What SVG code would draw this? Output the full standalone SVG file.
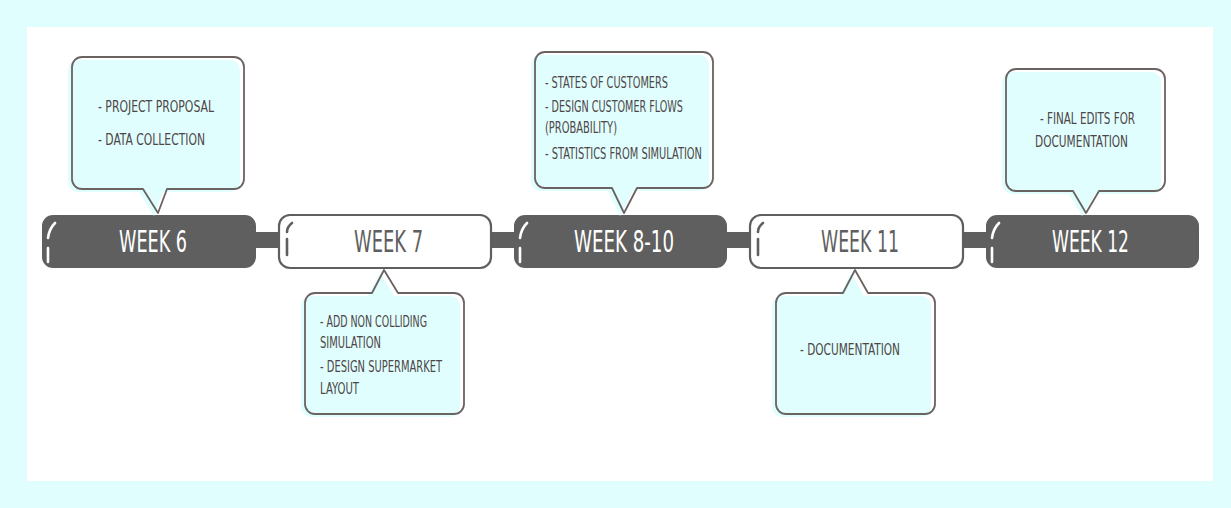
<svg xmlns="http://www.w3.org/2000/svg" width="1231" height="508" viewBox="0 0 1231 508">
<style>
.bg{fill:#e0fefe}
.panel{fill:#ffffff}
.bar{fill:#5f5f5f}
.pd{fill:#5f5f5f}
.pw{fill:#ffffff;stroke:#5f5f5f;stroke-width:2.2}
.hd{fill:none;stroke:#ffffff;stroke-width:2.6;stroke-linecap:round}
.hw{fill:none;stroke:#5f5f5f;stroke-width:2.6;stroke-linecap:round}
.lbl{font-family:"Liberation Sans Narrow","DejaVu Sans Condensed","Liberation Sans",sans-serif;font-size:31px}
.ld{fill:#ffffff}
.lw{fill:#5f5f5f}
.csh{fill:#e0fefe}
.cst{fill:none;stroke:#6b6361;stroke-width:1.8;stroke-linejoin:round}
.ct{font-family:"Liberation Sans Narrow","DejaVu Sans Condensed","Liberation Sans",sans-serif;font-size:15px;fill:#4e4646}
</style>
<rect class="bg" x="0" y="0" width="1231" height="508"/>
<rect class="panel" x="27" y="27" width="1186" height="454"/>

<g id="connectors">
<rect class="bar" x="250" y="232" width="35" height="16"/>
<rect class="bar" x="486" y="232" width="34" height="16"/>
<rect class="bar" x="722" y="232" width="34" height="16"/>
<rect class="bar" x="958" y="232" width="34" height="16"/>
</g>

<g id="week6">
<rect class="pd" x="42" y="215" width="214" height="53" rx="11"/>
<path class="hd" d="M55,223 Q49,229 48,238 M48,248 V262"/>
<text class="lbl ld" x="153" y="252" text-anchor="middle" textLength="68" lengthAdjust="spacingAndGlyphs">WEEK 6</text>
</g>
<g id="week7">
<rect class="pw" x="279" y="215" width="212" height="53" rx="11"/>
<path class="hw" d="M292,223 Q287,227 287,232 M287,239 V255"/>
<text class="lbl lw" x="388.5" y="252" text-anchor="middle" textLength="69" lengthAdjust="spacingAndGlyphs">WEEK 7</text>
</g>
<g id="week8-10">
<rect class="pd" x="514" y="215" width="213" height="53" rx="11"/>
<path class="hd" d="M527,223 Q521,229 520,238 M520,248 V262"/>
<text class="lbl ld" x="624" y="252" text-anchor="middle" textLength="100" lengthAdjust="spacingAndGlyphs">WEEK 8-10</text>
</g>
<g id="week11">
<rect class="pw" x="750" y="215" width="213" height="53" rx="11"/>
<path class="hw" d="M763,223 Q758,227 758,232 M758,239 V255"/>
<text class="lbl lw" x="860" y="252" text-anchor="middle" textLength="78" lengthAdjust="spacingAndGlyphs">WEEK 11</text>
</g>
<g id="week12">
<rect class="pd" x="986" y="215" width="213" height="53" rx="11"/>
<path class="hd" d="M999,223 Q993,229 992,238 M992,248 V262"/>
<text class="lbl ld" x="1090.5" y="252" text-anchor="middle" textLength="77" lengthAdjust="spacingAndGlyphs">WEEK 12</text>
</g>

<g id="note-week6">
<path class="csh" transform="translate(-4,3)" d="M82,57 H234 A10,10 0 0 1 244,67 V179 A10,10 0 0 1 234,189 H167 L158,213 L143,189 H82 A10,10 0 0 1 72,179 V67 A10,10 0 0 1 82,57 Z"/>
<path class="cst" d="M82,57 H234 A10,10 0 0 1 244,67 V179 A10,10 0 0 1 234,189 H167 L158,213 L143,189 H82 A10,10 0 0 1 72,179 V67 A10,10 0 0 1 82,57 Z"/>
<text class="ct" x="98" y="112" textLength="116" lengthAdjust="spacingAndGlyphs">- PROJECT PROPOSAL</text>
<text class="ct" x="98" y="145" textLength="107" lengthAdjust="spacingAndGlyphs">- DATA COLLECTION</text>
</g>

<g id="note-week7">
<path class="csh" transform="translate(-4,3)" d="M315,293 H372 L384,270 L398,293 H454 A10,10 0 0 1 464,303 V404 A10,10 0 0 1 454,414 H315 A10,10 0 0 1 305,404 V303 A10,10 0 0 1 315,293 Z"/>
<path class="cst" d="M315,293 H372 L384,270 L398,293 H454 A10,10 0 0 1 464,303 V404 A10,10 0 0 1 454,414 H315 A10,10 0 0 1 305,404 V303 A10,10 0 0 1 315,293 Z"/>
<text class="ct" x="320" y="327" textLength="107" lengthAdjust="spacingAndGlyphs">- ADD NON COLLIDING</text>
<text class="ct" x="320" y="348" textLength="61" lengthAdjust="spacingAndGlyphs">SIMULATION</text>
<text class="ct" x="320" y="372" textLength="122" lengthAdjust="spacingAndGlyphs">- DESIGN SUPERMARKET</text>
<text class="ct" x="320" y="394" textLength="39" lengthAdjust="spacingAndGlyphs">LAYOUT</text>
</g>

<g id="note-week8-10">
<path class="csh" transform="translate(-4,3)" d="M545,52 H703 A10,10 0 0 1 713,62 V178 A10,10 0 0 1 703,188 H637 L624,213 L612,188 H545 A10,10 0 0 1 535,178 V62 A10,10 0 0 1 545,52 Z"/>
<path class="cst" d="M545,52 H703 A10,10 0 0 1 713,62 V178 A10,10 0 0 1 703,188 H637 L624,213 L612,188 H545 A10,10 0 0 1 535,178 V62 A10,10 0 0 1 545,52 Z"/>
<text class="ct" x="545" y="88" textLength="123" lengthAdjust="spacingAndGlyphs">- STATES OF CUSTOMERS</text>
<text class="ct" x="545" y="112" textLength="138" lengthAdjust="spacingAndGlyphs">- DESIGN CUSTOMER FLOWS</text>
<text class="ct" x="545" y="133" textLength="72" lengthAdjust="spacingAndGlyphs">(PROBABILITY)</text>
<text class="ct" x="545" y="159" textLength="157" lengthAdjust="spacingAndGlyphs">- STATISTICS FROM SIMULATION</text>
</g>

<g id="note-week11">
<path class="csh" transform="translate(-4,3)" d="M786,293 H843 L855,270 L868,293 H925 A10,10 0 0 1 935,303 V404 A10,10 0 0 1 925,414 H786 A10,10 0 0 1 776,404 V303 A10,10 0 0 1 786,293 Z"/>
<path class="cst" d="M786,293 H843 L855,270 L868,293 H925 A10,10 0 0 1 935,303 V404 A10,10 0 0 1 925,414 H786 A10,10 0 0 1 776,404 V303 A10,10 0 0 1 786,293 Z"/>
<text class="ct" x="800" y="355" textLength="100" lengthAdjust="spacingAndGlyphs">- DOCUMENTATION</text>
</g>

<g id="note-week12">
<path class="csh" transform="translate(-4,3)" d="M1016,69 H1155 A10,10 0 0 1 1165,79 V181 A10,10 0 0 1 1155,191 H1099 L1086,213 L1073,191 H1016 A10,10 0 0 1 1006,181 V79 A10,10 0 0 1 1016,69 Z"/>
<path class="cst" d="M1016,69 H1155 A10,10 0 0 1 1165,79 V181 A10,10 0 0 1 1155,191 H1099 L1086,213 L1073,191 H1016 A10,10 0 0 1 1006,181 V79 A10,10 0 0 1 1016,69 Z"/>
<text class="ct" x="1040" y="124" textLength="95" lengthAdjust="spacingAndGlyphs">- FINAL EDITS FOR</text>
<text class="ct" x="1035" y="147" textLength="93" lengthAdjust="spacingAndGlyphs">DOCUMENTATION</text>
</g>
</svg>
